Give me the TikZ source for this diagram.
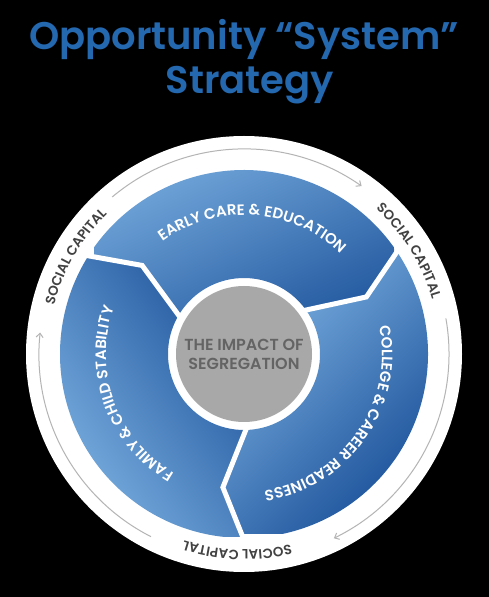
\documentclass[tikz,border=0pt]{standalone}
\usepackage{fontspec}
\setmainfont{Poppins}
\newfontfamily\diagfont{Poppins SemiBold}
\usetikzlibrary{decorations.text,arrows.meta}

\definecolor{titleblue}{RGB}{36,104,176}
\definecolor{segLight}{RGB}{132,185,232}
\definecolor{segDark}{RGB}{20,74,148}
\definecolor{hubgrey}{RGB}{168,168,168}
\definecolor{hubtext}{RGB}{100,100,100}
\definecolor{captext}{RGB}{66,66,66}
\definecolor{ringline}{RGB}{180,180,180}

\newcommand\wheelfont{\diagfont\fontsize{15}{15}\selectfont}
\newcommand\capfont{\diagfont\fontsize{13.5}{13.5}\selectfont}

\begin{document}
\begin{tikzpicture}[x=1pt,y=1pt,
    segshade/.style={top color=segLight,bottom color=segDark},
    wheellabel/.style={decorate,decoration={text along path,text align=center,text color=white}},
    caplabel/.style={decorate,decoration={text along path,text align=center,text color=captext}},
    flowarc/.style={draw=ringline,line width=1pt,-{Straight Barb[length=4pt,width=7pt]}},
    divider/.style={draw=white,line width=5pt,line join=miter}]
    % Background and bounding box
    \fill[black] (0,0) rectangle (489,597);
    \useasboundingbox (0,0) rectangle (489,597);

    % Title
    \node[font=\diagfont\fontsize{38.5}{38.5}\selectfont,text=titleblue,anchor=base] (title1) at (244,547) {Opportunity “System”};
    \node[font=\diagfont\fontsize{38.5}{38.5}\selectfont,text=titleblue,anchor=base] (title2) at (250,503) {Strategy};

    \begin{scope}[shift={(244,243)}]
        % Outer white ring
        \fill[white] (0,0) circle[radius=218];

        % Blue segments (square shadings clipped to each segment)
        \begin{scope}
            \clip (148:184) arc[start angle=148,end angle=34,radius=184] -- (25:135) -- (36:76)
                arc[start angle=36,end angle=150,radius=76] -- (139:135) -- cycle;
            \shade[segshade,shading angle=25] (-150,-37) rectangle (150,263);
        \end{scope}
        \begin{scope}
            \clip (34:184) arc[start angle=34,end angle=-90,radius=184] -- (-99:135) -- (-88:76)
                arc[start angle=-88,end angle=36,radius=76] -- (25:135) -- cycle;
            \shade[segshade,shading angle=45] (-58,-180) rectangle (222,100);
        \end{scope}
        \begin{scope}
            \clip (270:184) arc[start angle=270,end angle=148,radius=184] -- (139:135) -- (150:76)
                arc[start angle=150,end angle=272,radius=76] -- (261:135) -- cycle;
            \shade[segshade,shading angle=125] (-232,-183) rectangle (48,97);
        \end{scope}

        % Dividers between segments
        \foreach \a in {148,34,-90}
            \draw[divider] (\a:186) -- (\a-9:135) -- (\a+2:74);

        % Centre hub
        \fill[hubgrey] (0,0) circle[radius=68];
        \node[font=\diagfont\fontsize{16}{19}\selectfont,text=hubtext,align=center] (hub) at (0,0) {THE IMPACT OF\\SEGREGATION};

        % Segment labels
        \path[wheellabel,decoration={text={|\wheelfont|EARLY CARE {\&} EDUCATION}}]
            (166:139) arc[start angle=166,end angle=6,radius=139];
        \path[wheellabel,decoration={text={|\wheelfont|COLLEGE {\&} CAREER READINESS}}]
            (50:138) arc[start angle=50,end angle=-120,radius=138];
        \path[wheellabel,decoration={text={|\wheelfont|FAMILY {\&} CHILD STABILITY}}]
            (290:138) arc[start angle=290,end angle=110,radius=138];

        % Social capital labels
        \path[caplabel,decoration={text={|\capfont|SOCIAL CAPITAL}}]
            (200:196) arc[start angle=200,end angle=100,radius=196];
        \path[caplabel,decoration={text={|\capfont|SOCIAL CAPITAL}}]
            (82:196) arc[start angle=82,end angle=-18,radius=196];
        \path[caplabel,decoration={text={|\capfont|SOCIAL CAPITAL}}]
            (318:196) arc[start angle=318,end angle=218,radius=196];

        % Flow arrows round the ring
        \draw[flowarc] (130:205) arc[start angle=130,end angle=55,radius=205];
        \draw[flowarc] (10:205) arc[start angle=10,end angle=-64,radius=205];
        \draw[flowarc] (243:205) arc[start angle=243,end angle=174,radius=205];
    \end{scope}
\end{tikzpicture}
\end{document}
